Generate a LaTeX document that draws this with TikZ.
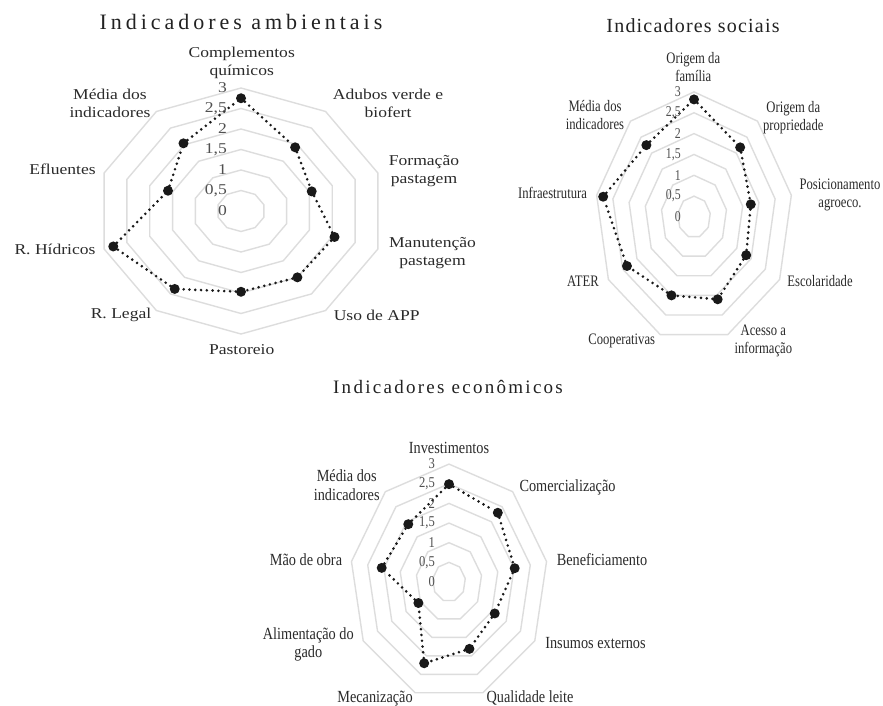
\documentclass[tikz,border=0pt]{standalone}
\usepackage{fontspec}
\setmainfont{Liberation Serif}
\usepackage{graphicx}
\definecolor{ringc}{HTML}{DDDDDD}
\definecolor{labc}{HTML}{2A2A2A}
\definecolor{tickc}{HTML}{505050}
\definecolor{titc}{HTML}{222222}
\newcommand\mylab[2]{\scalebox{#1}[1]{\begin{tabular}{@{}c@{}}#2\end{tabular}}}
\begin{document}
\begin{tikzpicture}[x=1pt,y=-1pt,
  ring/.style={draw=ringc, line width=1.4pt, line join=miter},
  dataline/.style={draw=black!90, line width=2.9pt, dash pattern=on 0pt off 5.8pt, line cap=round},
  datadot/.style={circle, fill=black!90, inner sep=0pt, minimum size=10pt},
  lbl/.style={inner sep=0pt, text=labc},
  ticklbl/.style={inner sep=0pt, text=tickc, anchor=east, font=\fontsize{15}{18}\selectfont},
  ttl/.style={inner sep=0pt, text=titc, anchor=base}]
\fill[white] (0,0) rectangle (883,706);
\useasboundingbox (0,0) rectangle (883,706);

% ---------------- Chart 1: ambientais ----------------
\node[ttl, font=\fontsize{22}{26}\selectfont\addfontfeatures{LetterSpace=18}] (T1) at (241,30) {Indicadores ambientais};
\begin{scope}[shift={(241,211)}, xscale=1.17]
  \foreach \v in {0.5,1,...,3}{
    \draw[ring] (-90:{\v*41}) \foreach \k in {1,...,9}{ -- ({-90+\k*36}:{\v*41}) } -- cycle;
  }
  \foreach \val [count=\k from 0] in {2.75,1.92,1.55,2.05,2.0,1.97,2.35,2.8,1.6,2.04}
    \node[datadot] (a\k) at ({-90+\k*36}:{\val*41}) {};
  \draw[dataline] (a0) -- (a1) -- (a2) -- (a3) -- (a4) -- (a5) -- (a6) -- (a7) -- (a8) -- (a9) -- (a0);
\end{scope}
\foreach \t [count=\i from 0] in {0,{0,5},1,{1,5},2,{2,5},3}
  \node[ticklbl] (ta\i) at (227,{211-\i*20.5}) {\scalebox{1.17}[1]{\t}};
\begin{scope}[every node/.style={lbl, font=\fontsize{15}{18}\selectfont}]
  \node (la0) at (241.7,63) {\mylab{1.17}{Complementos\\químicos}};
  \node (la1) at (388,105) {\mylab{1.17}{Adubos verde e\\biofert}};
  \node (la2) at (424,170.5) {\mylab{1.17}{Formação\\pastagem}};
  \node (la3) at (432.5,252.5) {\mylab{1.17}{Manutenção\\pastagem}};
  \node (la4) at (376.7,317) {\mylab{1.17}{Uso de APP}};
  \node (la5) at (241.7,351) {\mylab{1.17}{Pastoreio}};
  \node (la6) at (121,315) {\mylab{1.17}{R. Legal}};
  \node (la7) at (55,251) {\mylab{1.17}{R. Hídricos}};
  \node (la8) at (62.5,171) {\mylab{1.17}{Efluentes}};
  \node (la9) at (110,105) {\mylab{1.17}{Média dos\\indicadores}};
\end{scope}

% ---------------- Chart 2: sociais ----------------
\node[ttl, font=\fontsize{20}{24}\selectfont\addfontfeatures{LetterSpace=6}] (T2) at (693,33) {Indicadores sociais};
\begin{scope}[shift={(694,217)}, xscale=0.79]
  \foreach \v in {0.5,1,...,3}{
    \draw[ring] (-90:{\v*41.7}) \foreach \k in {1,...,8}{ -- ({-90+\k*40}:{\v*41.7}) } -- cycle;
  }
  \foreach \val [count=\k from 0] in {2.82,2.18,1.75,1.83,2.1,2.0,2.35,2.8,2.25}
    \node[datadot] (b\k) at ({-90+\k*40}:{\val*41.7}) {};
  \draw[dataline] (b0) -- (b1) -- (b2) -- (b3) -- (b4) -- (b5) -- (b6) -- (b7) -- (b8) -- (b0);
\end{scope}
\foreach \t [count=\i from 0] in {0,{0,5},1,{1,5},2,{2,5},3}
  \node[ticklbl] (tb\i) at (681,{217-\i*20.85}) {\scalebox{0.79}[1]{\t}};
\begin{scope}[every node/.style={lbl, font=\fontsize{16}{18}\selectfont}]
  \node (lb0) at (693.3,69) {\mylab{0.79}{Origem da\\família}};
  \node (lb1) at (793.3,117.5) {\mylab{0.79}{Origem da\\propriedade}};
  \node (lb2) at (840,194.5) {\mylab{0.79}{Posicionamento\\agroeco.}};
  \node (lb3) at (820,282.7) {\mylab{0.79}{Escolaridade}};
  \node (lb4) at (763.3,341) {\mylab{0.79}{Acesso a\\informação}};
  \node (lb5) at (621.7,340.7) {\mylab{0.79}{Cooperativas}};
  \node (lb6) at (583,282.7) {\mylab{0.79}{ATER}};
  \node (lb7) at (552.5,195) {\mylab{0.79}{Infraestrutura}};
  \node (lb8) at (595,116.7) {\mylab{0.79}{Média dos\\indicadores}};
\end{scope}

% ---------------- Chart 3: econômicos ----------------
\node[ttl, font=\fontsize{19}{23}\selectfont\addfontfeatures{LetterSpace=12}] (T3) at (448,393) {Indicadores econômicos};
\begin{scope}[shift={(449,582)}, xscale=0.84]
  \foreach \v in {0.5,1,...,3}{
    \draw[ring] (-90:{\v*39.3}) \foreach \k in {1,...,8}{ -- ({-90+\k*40}:{\v*39.3}) } -- cycle;
  }
  \foreach \val [count=\k from 0] in {2.49,2.3,2.02,1.6,1.81,2.2,1.07,2.07,1.92}
    \node[datadot] (c\k) at ({-90+\k*40}:{\val*39.3}) {};
  \draw[dataline] (c0) -- (c1) -- (c2) -- (c3) -- (c4) -- (c5) -- (c6) -- (c7) -- (c8) -- (c0);
\end{scope}
\foreach \t [count=\i from 0] in {0,{0,5},1,{1,5},2,{2,5},3}
  \node[ticklbl] (tc\i) at (435,{582-\i*19.65}) {\scalebox{0.84}[1]{\t}};
\begin{scope}[every node/.style={lbl, font=\fontsize{17}{18.5}\selectfont}]
  \node (lc0) at (449,449.3) {\mylab{0.84}{Investimentos}};
  \node (lc1) at (567.5,487.3) {\mylab{0.84}{Comercialização}};
  \node (lc2) at (602,561.7) {\mylab{0.84}{Beneficiamento}};
  \node (lc3) at (595.5,645) {\mylab{0.84}{Insumos externos}};
  \node (lc4) at (530,699) {\mylab{0.84}{Qualidade leite}};
  \node (lc5) at (375,699) {\mylab{0.84}{Mecanização}};
  \node (lc6) at (308.3,645) {\mylab{0.84}{Alimentação do\\gado}};
  \node (lc7) at (306,561.7) {\mylab{0.84}{Mão de obra}};
  \node (lc8) at (346.7,487.5) {\mylab{0.84}{Média dos\\indicadores}};
\end{scope}
\end{tikzpicture}
\end{document}
